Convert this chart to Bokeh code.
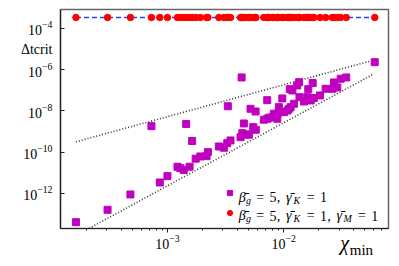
import math
from bokeh.plotting import figure
from bokeh.models import (Range1d, FixedTicker, LogTickFormatter, Label, LogAxis,
                          Legend, LegendItem, CustomJSTickFormatter)
from bokeh.embed import file_html
from bokeh.resources import INLINE

# ---------------- data ----------------
chi_min = [1.63e-4, 3.05e-4, 4.80e-4, 7.28e-4, 8.59e-4, 1.00e-3, 1.22e-3, 1.29e-3,
           1.38e-3, 1.45e-3, 1.55e-3, 1.63e-3, 1.75e-3, 1.92e-3, 2.17e-3, 2.23e-3,
           2.77e-3, 3.06e-3, 3.27e-3, 3.31e-3, 3.49e-3, 4.26e-3, 4.35e-3, 4.41e-3,
           4.55e-3, 4.70e-3, 5.02e-3, 5.19e-3, 5.48e-3, 5.74e-3, 5.76e-3, 6.76e-3,
           7.23e-3, 7.25e-3, 7.47e-3, 8.00e-3, 8.25e-3, 8.83e-3, 8.85e-3, 9.10e-3,
           9.75e-3, 1.01e-2, 1.08e-2, 1.11e-2, 1.13e-2, 1.15e-2, 1.19e-2, 1.23e-2,
           1.31e-2, 1.36e-2, 1.37e-2, 1.50e-2, 1.60e-2, 1.63e-2, 1.71e-2, 1.78e-2,
           1.82e-2, 2.06e-2, 2.30e-2, 2.63e-2, 2.72e-2, 2.90e-2, 3.10e-2, 3.46e-2,
           6.09e-2]

dt_beta = [3.95e-14, 1.58e-13, 8.75e-13, 1.81e-9, 3.34e-12, 6.76e-12, 1.93e-11, 1.65e-11,
           1.35e-11, 2.31e-9, 1.95e-11, 3.46e-10, 4.79e-11, 6.11e-11, 6.32e-11, 9.89e-11,
           1.87e-10, 1.62e-10, 2.70e-10, 1.67e-8, 3.66e-10, 5.28e-10, 4.18e-7, 8.26e-10,
           2.44e-9, 7.14e-10, 7.00e-10, 1.26e-8, 1.62e-9, 9.35e-9, 1.21e-9, 3.70e-9,
           3.30e-8, 4.14e-9, 4.62e-9, 4.94e-9, 7.23e-9, 4.14e-9, 7.23e-9, 1.51e-8,
           4.00e-8, 8.65e-9, 1.04e-8, 1.26e-8, 1.13e-7, 1.51e-8, 9.77e-8, 2.21e-8,
           1.71e-7, 2.47e-7, 4.62e-8, 2.86e-8, 4.62e-8, 1.13e-7, 3.20e-8, 2.26e-7,
           4.23e-8, 5.60e-8, 1.18e-7, 1.18e-7, 2.39e-7, 1.37e-7, 3.61e-7, 4.18e-7,
           2.31e-6]

dt_beta_gamma_m = [3.4e-4, 3.4e-4, 3.4e-4, 3.4e-4, 3.4e-4, 3.4e-4, 3.4e-4, 3.4e-4,
                   3.4e-4, 3.4e-4, 3.4e-4, 3.4e-4, 3.4e-4, 3.4e-4, 3.4e-4, 3.4e-4,
                   3.4e-4, 3.4e-4, 3.4e-4, 3.4e-4, 3.4e-4, 3.4e-4, 3.4e-4, 3.4e-4,
                   3.4e-4, 3.4e-4, 3.4e-4, 3.4e-4, 3.4e-4, 3.4e-4, 3.4e-4, 3.4e-4,
                   3.4e-4, 3.4e-4, 3.4e-4, 3.4e-4, 3.4e-4, 3.4e-4, 3.4e-4, 3.4e-4,
                   3.4e-4, 3.4e-4, 3.4e-4, 3.4e-4, 3.4e-4, 3.4e-4, 3.4e-4, 3.4e-4,
                   3.4e-4, 3.4e-4, 3.4e-4, 3.4e-4, 3.4e-4, 3.4e-4, 3.4e-4, 3.4e-4,
                   3.4e-4, 3.4e-4, 3.4e-4, 3.4e-4, 3.4e-4, 3.4e-4, 3.4e-4, 3.4e-4,
                   3.4e-4]

# dotted guide lines (end points)
guide_upper_x = [1.63e-4, 5.43e-2]
guide_upper_y = [3.16e-10, 2.51e-6]
guide_lower_x = [1.63e-4, 6.0e-2]
guide_lower_y = [8.9e-15, 6.3e-7]

x_ticks = [1e-3, 1e-2]
x_minor = [m * 10.0 ** e for e in (-4, -3, -2) for m in range(2, 10) if m * 10.0 ** e < 0.08]
y_ticks = [1e-12, 1e-10, 1e-8, 1e-6, 1e-4]
y_title_at = 1e-5          # tick slot that carries the y-axis title
y_title = "Δtcrit"

SERIF = "Liberation Serif, serif"

# ---------------- figure ----------------
p = figure(x_axis_type="log", y_axis_type="log",
           x_range=Range1d(1.2e-4, 8.0e-2), y_range=Range1d(1.95e-14, 8.3e-4),
           width=391, height=262,
           min_border_left=60, min_border_right=3, min_border_top=9, min_border_bottom=34,
           output_backend="svg", toolbar_location=None,
           background_fill_color="white", border_fill_color="white")
p.grid.visible = False
p.outline_line_color = "#666666"
p.outline_line_width = 1.5

# x axis
xa = p.xaxis[0]
xa.formatter = LogTickFormatter()
xa.ticker = FixedTicker(ticks=x_ticks, minor_ticks=x_minor)
xa.major_label_text_font = SERIF
xa.major_label_text_font_size = "14px"
xa.major_label_text_color = "black"
xa.axis_line_color = "#222222"
xa.axis_line_width = 1.2
xa.major_tick_line_color = "#222222"
xa.minor_tick_line_color = "#222222"
xa.major_tick_out = 4
xa.major_tick_in = 0
xa.minor_tick_out = 2
xa.minor_tick_in = 0
xa.major_label_standoff = 2

# y axis: inner axis draws the line and the inward ticks (no labels) ...
ya = p.yaxis[0]
ya.ticker = FixedTicker(ticks=y_ticks, minor_ticks=[])
ya.formatter = CustomJSTickFormatter(code="return '';")
ya.axis_line_color = "#222222"
ya.axis_line_width = 1.2
ya.major_tick_line_color = "#222222"
ya.major_tick_in = 4
ya.major_tick_out = 0
ya.minor_tick_in = 0
ya.minor_tick_out = 0
ya.major_label_standoff = 0

# ... outer axis carries the tick labels plus the axis title
yl = LogAxis(ticker=FixedTicker(ticks=y_ticks + [y_title_at], minor_ticks=[]),
             formatter=LogTickFormatter(),
             major_label_overrides={y_title_at: y_title},
             axis_line_color=None, major_tick_line_color=None, minor_tick_line_color=None,
             major_tick_in=0, major_tick_out=0, minor_tick_in=0, minor_tick_out=0,
             major_label_standoff=8, major_label_text_font=SERIF,
             major_label_text_font_size="14px", major_label_text_color="black")
p.add_layout(yl, "left")

# guides
p.line(guide_upper_x, guide_upper_y, line_color="#333333", line_dash="1 2", line_width=1.6)
p.line(guide_lower_x, guide_lower_y, line_color="#333333", line_dash="1 2", line_width=1.6)

# series
sq = p.scatter(chi_min, dt_beta, marker="square", size=7,
               fill_color="#bf00bf", line_color="#bf00bf")
p.line(chi_min, dt_beta_gamma_m, line_color="#2a3cff", line_dash="5 3", line_width=1.5)
ci = p.scatter(chi_min, dt_beta_gamma_m, marker="circle", size=6.5,
               fill_color="#ff0000", line_color="#ff0000")

# legend (markers only; texts laid out below)
legend = Legend(items=[LegendItem(label=" ", renderers=[sq]),
                       LegendItem(label=" ", renderers=[ci])],
                location=(162.5, 9.5), glyph_width=13, glyph_height=13,
                label_height=13, label_text_font_size="1px", spacing=7,
                padding=0, margin=0, border_line_alpha=0, background_fill_alpha=0)
p.add_layout(legend)


def text_run(parts, x0, y0):
    x = x0
    for text, width, size, style, dy in parts:
        if text:
            p.add_layout(Label(x=x + width / 2, y=y0 + dy, x_units="screen", y_units="screen",
                               text=text, text_font=SERIF, text_font_style=style,
                               text_font_size=f"{size}px", text_align="center",
                               text_baseline="alphabetic", text_color="black"))
        x += width


row1 = [("β̄", 7.9, 14, "italic", 0), ("g", 4.8, 10, "italic", -3), ("", 3.9, 14, "normal", 0),
        ("=", 10.9, 14, "normal", 0), ("", 3.9, 14, "normal", 0), ("5", 7, 14, "normal", 0),
        (",", 3.9, 14, "normal", 0), ("", 4.6, 14, "normal", 0),
        ("γ̄", 7.3, 14, "italic", 0), ("K", 8.9, 10, "italic", -3), ("", 3.9, 14, "normal", 0),
        ("=", 10.9, 14, "normal", 0), ("", 3.9, 14, "normal", 0), ("1", 7, 14, "normal", 0)]
row2 = row1 + [(",", 3.9, 14, "normal", 0), ("", 4.6, 14, "normal", 0),
               ("γ̄", 7.3, 14, "italic", 0), ("M", 9.7, 10, "italic", -3), ("", 3.9, 14, "normal", 0),
               ("=", 10.9, 14, "normal", 0), ("", 3.9, 14, "normal", 0), ("1", 7, 14, "normal", 0)]
text_run(row1, 177.7, 31.3)
text_run(row2, 177.7, 13.0)


# x-axis title pieces: label-only axes whose single tick label is the text
def label_axis(side, tick, text, size, style, standoff):
    ax = LogAxis(ticker=FixedTicker(ticks=[tick], minor_ticks=[]),
                 formatter=CustomJSTickFormatter(code="return %r;" % text),
                 axis_line_color=None, major_tick_line_color=None, minor_tick_line_color=None,
                 major_tick_in=0, major_tick_out=0, minor_tick_in=0, minor_tick_out=0,
                 major_label_standoff=standoff,
                 major_label_text_font=SERIF, major_label_text_font_style=style,
                 major_label_text_font_size=f"{size}px", major_label_text_color="black")
    p.add_layout(ax, side)


label_axis("below", 0.0336, "χ", 20, "italic", -20)
label_axis("below", 0.0468, "min", 15, "normal", -15)

open("out.html", "w").write(file_html(p, INLINE))
